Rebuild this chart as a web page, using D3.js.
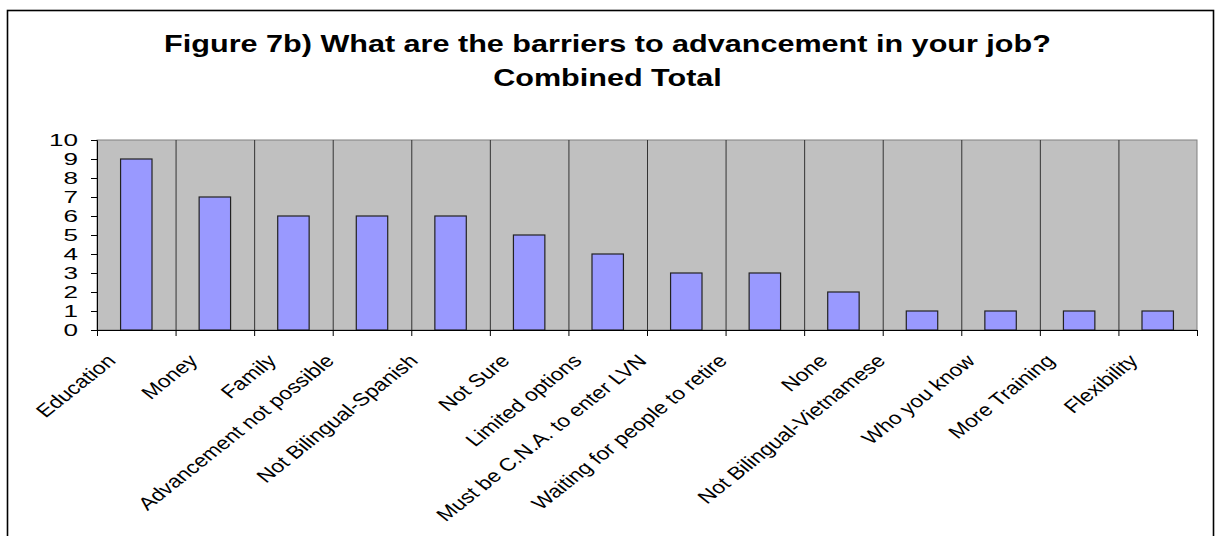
<!DOCTYPE html>
<html>
<head>
<meta charset="utf-8">
<script src="https://cdn.jsdelivr.net/npm/d3@7"></script>
<style>
  html, body { margin: 0; padding: 0; background: #fff; }
  svg { display: block; font-family: Arial, "Liberation Sans", sans-serif; }
</style>
</head>
<body>
<svg id="chart" width="1216" height="536"></svg>
<script>
const categories = ["Education", "Money", "Family", "Advancement not possible", "Not Bilingual-Spanish",
  "Not Sure", "Limited options", "Must be C.N.A. to enter LVN", "Waiting for people to retire",
  "None", "Not Bilingual-Vietnamese", "Who you know", "More Training", "Flexibility"];
const values = [9, 7, 6, 6, 6, 5, 4, 3, 3, 2, 1, 1, 1, 1];
const yTicks = [0, 1, 2, 3, 4, 5, 6, 7, 8, 9, 10];
const titleLines = ["Figure 7b) What are the barriers to advancement in your job?", "Combined Total"];

const svg = d3.select("#chart");
const SX_TITLE = 1.33, SX_LBL = 1.26, SX_Y = 1.6; // horizontal text stretch of the original rendering
const plot = { left: 97, right: 1197, top: 140, bottom: 330 };

// outer frame
svg.append("rect").attr("x", 7.5).attr("y", 10.5).attr("width", 1206).attr("height", 540)
  .attr("fill", "#fff").attr("stroke", "#000").attr("stroke-width", 1.6);

const x = d3.scaleBand().domain(categories).range([plot.left, plot.right]).padding(0);
const y = d3.scaleLinear().domain([0, 10]).range([plot.bottom, plot.top]);

// plot area
svg.append("rect").attr("x", plot.left).attr("y", plot.top)
  .attr("width", plot.right - plot.left).attr("height", plot.bottom - plot.top)
  .attr("fill", "#c0c0c0").attr("stroke", "#808080").attr("stroke-width", 1);

// vertical category gridlines
const bounds = categories.slice(1).map(c => x(c));
svg.append("g").selectAll("line").data(bounds).join("line")
  .attr("x1", d => d + 0.5).attr("x2", d => d + 0.5)
  .attr("y1", plot.top).attr("y2", plot.bottom)
  .attr("stroke", "#333").attr("stroke-width", 1);

// bars
const bw = x.bandwidth() * 0.4;
svg.append("g").selectAll("rect").data(values).join("rect")
  .attr("x", (d, i) => x(categories[i]) + (x.bandwidth() - bw) / 2)
  .attr("y", d => y(d))
  .attr("width", bw)
  .attr("height", d => y(0) - y(d))
  .attr("fill", "#9999ff").attr("stroke", "#222").attr("stroke-width", 1.2);

// y axis
const yAxis = svg.append("g").attr("transform", `translate(${plot.left},0)`)
  .call(d3.axisLeft(y).tickValues(yTicks).tickSize(6).tickPadding(5).tickFormat(d3.format("d")));
yAxis.select(".domain").attr("stroke", "#000");
yAxis.selectAll(".tick line").attr("stroke", "#000");
yAxis.selectAll(".tick text")
  .attr("font-size", 16.3).attr("fill", "#000").attr("font-family", "Arial, 'Liberation Sans', sans-serif")
  .attr("text-anchor", "end").attr("x", 0).attr("dy", "0.36em")
  .attr("transform", `translate(-19,0) scale(${SX_Y},1)`);

// x axis ticks at category boundaries
const xTickPos = [plot.left, ...bounds, plot.right];
svg.append("line").attr("x1", plot.left).attr("x2", plot.right)
  .attr("y1", plot.bottom + 0.5).attr("y2", plot.bottom + 0.5).attr("stroke", "#000").attr("stroke-width", 1.2);
svg.append("g").selectAll("line").data(xTickPos).join("line")
  .attr("x1", d => d + 0.5).attr("x2", d => d + 0.5)
  .attr("y1", plot.bottom).attr("y2", plot.bottom + 6).attr("stroke", "#000");

// rotated category labels
const lbl = svg.append("g").selectAll("text").data(categories).join("text")
  .text(d => d)
  .attr("font-size", 18).attr("fill", "#000").attr("text-anchor", "end");
lbl.each(function(d) {
  const span = this.getComputedTextLength() * SX_LBL * Math.SQRT1_2;
  const px = x(d) + x.bandwidth() / 2 - 9 - 0.146 * span;
  const py = plot.bottom + 32;
  d3.select(this).attr("transform", `translate(${px},${py}) scale(${SX_LBL},1) rotate(-45)`);
});

// title
svg.append("g").selectAll("text").data(titleLines).join("text")
  .text(d => d)
  .attr("font-size", 23).attr("font-weight", "bold").attr("fill", "#000")
  .attr("text-anchor", "middle")
  .attr("transform", (d, i) => `translate(607.5,${52 + i * 34}) scale(${SX_TITLE},1)`);
</script>
</body>
</html>
